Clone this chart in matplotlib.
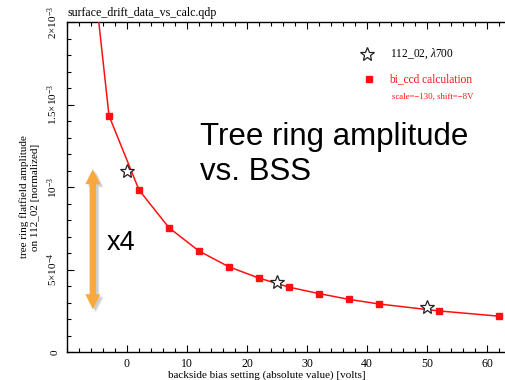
import matplotlib
matplotlib.use("Agg")
import matplotlib.pyplot as plt
from matplotlib.patches import Polygon
from matplotlib.ticker import MultipleLocator, FixedLocator, FixedFormatter

plt.rcParams["font.family"] = ["Liberation Serif", "DejaVu Serif"]
plt.rcParams["mathtext.fontset"] = "custom"
plt.rcParams["mathtext.rm"] = "Liberation Serif"
plt.rcParams["mathtext.it"] = "Liberation Serif:italic"

# bi_ccd calculation (scale=-130, shift=-8V)
calc_bias = [-8, -3, 2, 7, 12, 17, 22, 27, 32, 37, 42, 52, 62]
calc_amp = [3.10e-3, 1.432e-3, 0.982e-3, 0.753e-3, 0.612e-3, 0.516e-3,
            0.448e-3, 0.393e-3, 0.354e-3, 0.319e-3, 0.291e-3, 0.249e-3, 0.217e-3]

# measured tree ring amplitude, 112_02 at 700 nm
meas_bias = [0, 25, 50]
meas_amp = [1.096e-3, 0.422e-3, 0.273e-3]

xtick_vals = [0, 10, 20, 30, 40, 50, 60]
ytick_vals = [0, 5e-4, 1e-3, 1.5e-3, 2e-3]
ytick_labels = ["0", r"$5{\times}10^{-4}$", r"$10^{-3}$",
                r"$1.5{\times}10^{-3}$", r"$2{\times}10^{-3}$"]

# x4 annotation spans the measured amplitudes
arrow_top = 1.108e-3
arrow_bottom = 0.259e-3
arrow_x = -5.7

W, H = 506, 380
fig = plt.figure(figsize=(W / 100, H / 100), dpi=100)


def fx(px):
    return px / W


def fy(py):
    return 1 - py / H


ax = fig.add_axes([fx(67), fy(352), (511 - 67) / W, (352 - 22) / H])
ax.set_xlim(-10, 64)
ax.set_ylim(0, 2e-3)

red = "#ff1010"
ax.plot(calc_bias, calc_amp, color=red, lw=1.1, marker="s", ms=4,
        mfc=red, mec=red, zorder=3, clip_on=True)
ax.plot(meas_bias, meas_amp, ls="none", marker="*", ms=10, mfc="white",
        mec="#222222", mew=0.9, zorder=4)

ax.xaxis.set_major_locator(FixedLocator(xtick_vals))
ax.xaxis.set_minor_locator(MultipleLocator(2))
ax.yaxis.set_major_locator(FixedLocator(ytick_vals))
ax.yaxis.set_major_formatter(FixedFormatter(ytick_labels))
ax.yaxis.set_minor_locator(MultipleLocator(1e-4))
ax.tick_params(which="both", direction="in", top=True, right=False,
               width=0.8, colors="black")
ax.tick_params(which="major", length=5)
ax.tick_params(which="minor", length=3)
ax.tick_params(axis="x", labelsize=8.5, pad=4)
ax.tick_params(axis="y", labelsize=8, pad=5)
for lab in ax.get_yticklabels():
    lab.set_rotation(90)
    lab.set_va("center")
for sp in ax.spines.values():
    sp.set_linewidth(1.0)

fig.text(fx(267), fy(375), "backside bias setting (absolute value) [volts]",
         ha="center", va="center", fontsize=8)
fig.text(fx(30), fy(197), "tree ring flatfield amplitude\non 112_02 [normalized]",
         ha="center", va="center", rotation=90, fontsize=8, linespacing=1.3)
fig.text(fx(68), fy(16), "surface_drift_data_vs_calc.qdp", ha="left",
         va="baseline", fontsize=8.6)

# legend block
ax.plot([fx(367)], [fy(54)], transform=fig.transFigure, marker="*", ms=10,
        mfc="white", mec="#222222", mew=0.9, clip_on=False)
fig.text(fx(390), fy(54), "112_02, $\\lambda$700", ha="left", va="center",
         fontsize=8.3)
ax.plot([fx(369)], [fy(79)], transform=fig.transFigure, marker="s", ms=4,
        color=red, clip_on=False)
fig.text(fx(389), fy(79), "bi_ccd calculation", ha="left", va="center",
         fontsize=8.3, color=red)
fig.text(fx(392), fy(97), "scale=\u2212130, shift=\u22128V", ha="left",
         va="center", fontsize=6.3, color=red)

# headline annotation
fig.text(fx(200), fy(180), "Tree ring amplitude\nvs. BSS", ha="left",
         va="baseline", fontsize=22.5, family="Liberation Sans",
         linespacing=1.22)
fig.text(fx(107), fy(250), "x4", ha="left", va="baseline", fontsize=19.5,
         family="Liberation Sans")

# double-headed orange arrow with a soft shadow
dx_px = 1 / 6.0            # volts per pixel
dy_px = 2e-3 / 330.0       # amplitude per pixel
half_shaft = 3.2 * dx_px
half_head = 7.5 * dx_px
head_len = 15 * dy_px


def arrow_poly(x0, y_top, y_bot):
    return [
        (x0, y_top),
        (x0 + half_head, y_top - head_len),
        (x0 + half_shaft, y_top - head_len),
        (x0 + half_shaft, y_bot + head_len),
        (x0 + half_head, y_bot + head_len),
        (x0, y_bot),
        (x0 - half_head, y_bot + head_len),
        (x0 - half_shaft, y_bot + head_len),
        (x0 - half_shaft, y_top - head_len),
        (x0 - half_head, y_top - head_len),
    ]


for off, alpha in [(3.5, 0.04), (3.0, 0.05), (2.5, 0.06), (2.0, 0.06)]:
    ax.add_patch(Polygon(arrow_poly(arrow_x + off * dx_px,
                                    arrow_top - off * dy_px,
                                    arrow_bottom - off * dy_px),
                         closed=True, fc="black", ec="none", alpha=alpha,
                         zorder=5))
ax.add_patch(Polygon(arrow_poly(arrow_x, arrow_top, arrow_bottom),
                     closed=True, fc="#f9a83e", ec="none", zorder=6))

fig.savefig("out.png", dpi=100)
